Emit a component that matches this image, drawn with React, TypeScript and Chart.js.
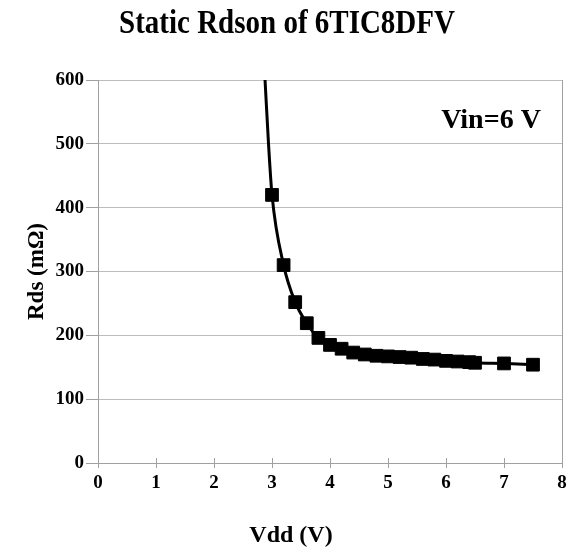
import React, { useEffect, useRef } from "react";
import { Chart, registerables } from "chart.js";

Chart.register(...registerables);

// Vdd (V) — first two entries only continue the smoothed curve (no marker)
const vdd = [2.88, 2.94, 3.0, 3.2, 3.4, 3.6, 3.8, 4.0, 4.2, 4.4, 4.6, 4.8, 5.0, 5.2, 5.4, 5.6, 5.8, 6.0, 6.2, 6.4, 6.5, 7.0, 7.5];
// Rds (mΩ)
const rds = [600, 500, 420, 310, 252, 219, 196, 185, 179, 173, 170, 168, 167, 166, 165, 163, 162, 160, 159, 158, 157, 156, 154];
const hasMarker = [false, false, true, true, true, true, true, true, true, true, true, true, true, true, true, true, true, true, true, true, true, true, true];

const xTicks = [0, 1, 2, 3, 4, 5, 6, 7, 8];
const yTicks = [0, 100, 200, 300, 400, 500, 600];

const titleText = "Static Rdson of 6TIC8DFV";
const xTitle = "Vdd (V)";
const yTitle = "Rds (mΩ)";
const noteText = "Vin=6 V";

const FONT = "'Liberation Serif', 'Times New Roman', serif";

export default function App() {
  const ref = useRef<HTMLCanvasElement | null>(null);

  useEffect(() => {
    document.body.style.margin = "0";
    const canvas = ref.current;
    if (!canvas) return;

    const textPlugin = {
      id: "extraText",
      afterDraw(chart: any) {
        const ctx = chart.ctx;
        const xs = chart.scales.x;
        const area = chart.chartArea;
        ctx.save();
        // small inner tick marks on the x axis
        ctx.strokeStyle = "#a0a0a0";
        ctx.lineWidth = 1;
        xTicks.forEach((v) => {
          const px = Math.round(xs.getPixelForValue(v)) + 0.5;
          ctx.beginPath();
          ctx.moveTo(px, area.bottom - 5);
          ctx.lineTo(px, area.bottom);
          ctx.stroke();
        });
        ctx.fillStyle = "#000";
        ctx.textAlign = "center";
        // title (slightly tall, condensed look)
        ctx.save();
        ctx.translate(287, 24);
        ctx.scale(1, 1.15);
        ctx.font = `bold 29px ${FONT}`;
        ctx.textBaseline = "middle";
        ctx.fillText(titleText, 0, 0);
        ctx.restore();
        ctx.font = `bold 28px ${FONT}`;
        ctx.textBaseline = "alphabetic";
        ctx.fillText(noteText, 491, 128);
        ctx.font = `bold 24px ${FONT}`;
        ctx.textBaseline = "middle";
        ctx.fillText(xTitle, 291, 536);
        ctx.restore();
      },
    };

    const chart = new Chart(canvas, {
      type: "line",
      data: {
        datasets: [
          {
            data: vdd.map((x, i) => ({ x, y: rds[i] })),
            borderColor: "#000",
            backgroundColor: "#000",
            borderWidth: 3,
            cubicInterpolationMode: "monotone",
            pointStyle: "rect",
            pointRadius: hasMarker.map((m) => (m ? 9 : 0)),
            pointBorderWidth: 1,
            pointBackgroundColor: "#000",
            pointBorderColor: "#000",
            fill: false,
          },
        ],
      },
      options: {
        animation: false,
        responsive: false,
        layout: { padding: { left: 0, right: 12, top: 80, bottom: 0 } },
        plugins: {
          legend: { display: false },
          tooltip: { enabled: false },
          title: { display: false },
        },
        scales: {
          x: {
            type: "linear",
            min: 0,
            max: 8,
            afterFit: (s: any) => {
              s.height = 89;
            },
            afterBuildTicks: (s: any) => {
              s.ticks = xTicks.map((v) => ({ value: v }));
            },
            ticks: {
              color: "#000",
              font: { family: FONT, size: 19, weight: "bold" },
              padding: 4,
              maxRotation: 0,
            },
            grid: {
              color: (c: any) => (c.tick && c.tick.value === 8 ? "#a0a0a0" : "rgba(0,0,0,0)"),
              tickColor: "#a0a0a0",
              tickLength: 5,
              lineWidth: 1,
            },
            border: { display: true, color: "#a0a0a0", width: 1 },
          },
          y: {
            type: "linear",
            min: 0,
            max: 600,
            afterFit: (s: any) => {
              s.width = 98;
            },
            afterBuildTicks: (s: any) => {
              s.ticks = yTicks.map((v) => ({ value: v }));
            },
            ticks: {
              color: "#000",
              font: { family: FONT, size: 19, weight: "bold" },
              padding: 2,
            },
            grid: {
              color: "#bdbdbd",
              tickColor: "#a0a0a0",
              tickLength: 12,
              lineWidth: 1,
            },
            border: { display: true, color: "#a0a0a0", width: 1 },
            title: {
              display: true,
              text: yTitle,
              color: "#000",
              font: { family: FONT, size: 23, weight: "bold" },
              padding: { top: 23, bottom: 0 },
            },
          },
        },
      },
      plugins: [textPlugin],
    } as any);

    return () => chart.destroy();
  }, []);

  return (
    <div style={{ width: 574, height: 552, background: "#fff" }}>
      <canvas ref={ref} width={574} height={552} />
    </div>
  );
}
